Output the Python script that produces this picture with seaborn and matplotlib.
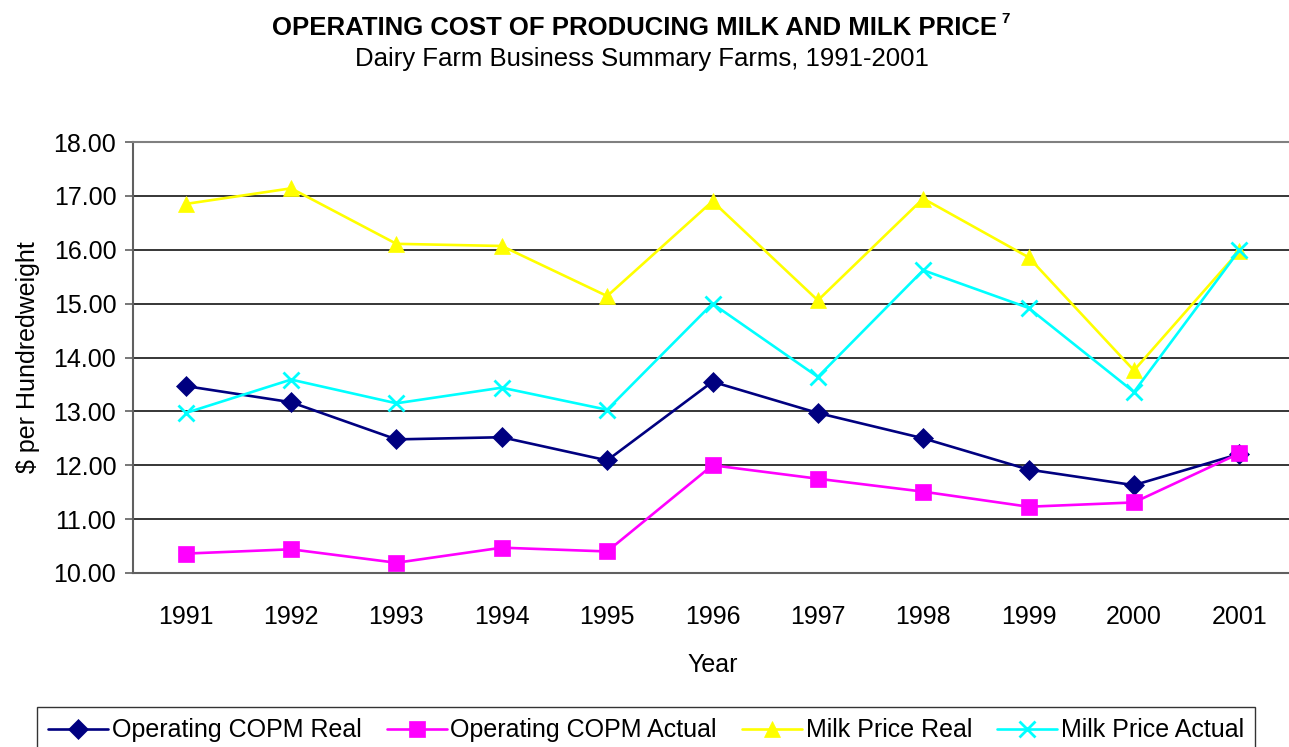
import matplotlib
matplotlib.use("Agg")
import matplotlib.pyplot as plt
import seaborn as sns
import numpy as np
import pandas as pd

years = ["1991", "1992", "1993", "1994", "1995", "1996", "1997", "1998", "1999", "2000", "2001"]
copm_real = [13.47, 13.17, 12.48, 12.52, 12.09, 13.55, 12.97, 12.50, 11.92, 11.63, 12.21]
copm_actual = [10.36, 10.44, 10.19, 10.47, 10.40, 12.00, 11.75, 11.51, 11.23, 11.31, 12.22]
price_real = [16.85, 17.14, 16.11, 16.07, 15.14, 16.90, 15.06, 16.95, 15.86, 13.76, 15.98]
price_actual = [12.97, 13.59, 13.15, 13.44, 13.03, 15.00, 13.64, 15.62, 14.92, 13.36, 15.99]

series = [
    ("Operating COPM Real", copm_real, "#000080", "D", 10),
    ("Operating COPM Actual", copm_actual, "#FF00FF", "s", 11),
    ("Milk Price Real", price_real, "#FFFF00", "^", 12),
    ("Milk Price Actual", price_actual, "#00FFFF", "x", 11),
]

sns.set_style("white")
plt.rcParams["font.family"] = ["Liberation Sans", "DejaVu Sans"]
plt.rcParams["text.color"] = "black"
plt.rcParams["axes.labelcolor"] = "black"
FS = 18

fig = plt.figure(figsize=(12.89, 7.47), dpi=100)
ax = fig.add_axes([133 / 1289, 1 - 573 / 747, (1292 - 133) / 1289, (573 - 142) / 747])

xpos = np.arange(len(years))
for name, vals, col, mk, ms in series:
    df = pd.DataFrame({"x": xpos, "y": vals})
    sns.lineplot(data=df, x="x", y="y", ax=ax, color=col, marker=mk, markersize=ms,
                 markeredgecolor=col, markeredgewidth=2 if mk == "x" else 0.5,
                 linewidth=1.9, label=name)

ax.set_xlim(-0.5, 10.5)
ax.set_ylim(10, 18)
ax.set_yticks(np.arange(10, 18.01, 1))
ax.set_yticklabels([f"{v:.2f}" for v in np.arange(10, 18.01, 1)], fontsize=FS)
ax.set_xticks(xpos)
ax.set_xticklabels(years, fontsize=FS)
ax.set_xticks(np.arange(-0.5, 11, 1), minor=True)
ax.tick_params(axis="x", which="major", length=0, pad=23, labelcolor="black")
ax.tick_params(axis="x", which="minor", length=7, width=1.2, color="#606060", direction="out")
ax.tick_params(axis="y", length=6, width=1.2, color="#606060", direction="out", left=True, pad=6,
               labelcolor="black")
ax.yaxis.grid(True, color="black", linewidth=1.1)
ax.xaxis.grid(False)
for s in ax.spines.values():
    s.set_color("#808080")
    s.set_linewidth(1.5)
ax.spines["left"].set_color("#606060")
ax.spines["bottom"].set_color("#606060")

ax.set_xlabel("Year", fontsize=FS, labelpad=17)
ax.set_ylabel("$ per Hundredweight", fontsize=FS, labelpad=10)

fig.text(635 / 1289, 1 - 28 / 747, "OPERATING COST OF PRODUCING MILK AND MILK PRICE",
         ha="center", va="center", fontsize=18.5, fontweight="bold")
fig.text(1001 / 1289, 1 - 19 / 747, "7", ha="left", va="center", fontsize=11, fontweight="bold")
fig.text(642 / 1289, 1 - 59 / 747, "Dairy Farm Business Summary Farms, 1991-2001",
         ha="center", va="center", fontsize=18.5)

handles, labels = ax.get_legend_handles_labels()
ax.get_legend().remove()
leg = fig.legend(handles, labels, loc="upper center", bbox_to_anchor=(646 / 1289, 1 - 707 / 747),
                 ncol=4, fontsize=FS, frameon=True, fancybox=False, edgecolor="black",
                 handlelength=2.4, handletextpad=0.15, columnspacing=1.0, borderpad=0.45,
                 borderaxespad=0)
leg.get_frame().set_linewidth(1.0)

fig.savefig("out.png", dpi=100)
